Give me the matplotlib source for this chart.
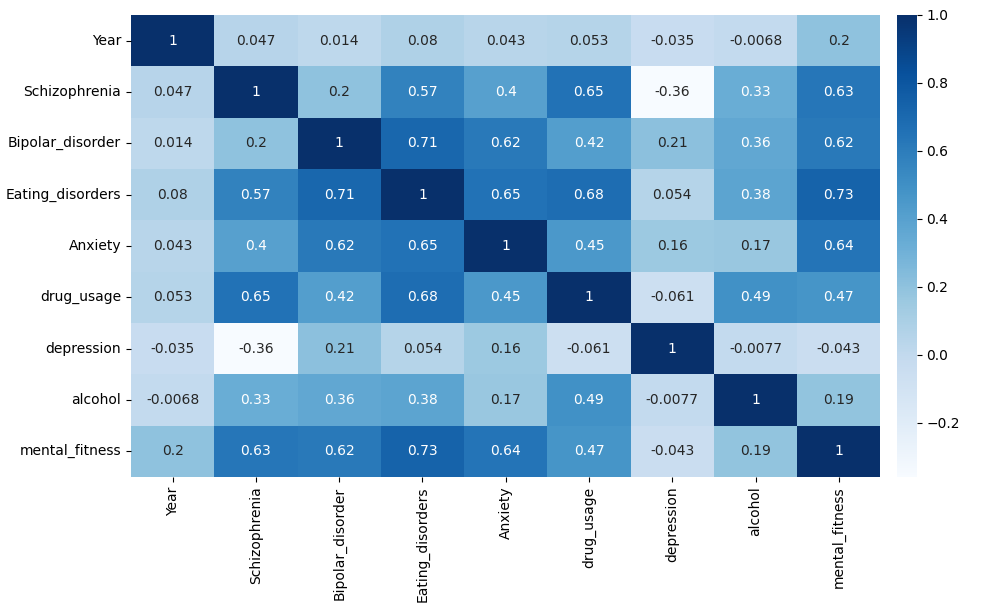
import numpy as np
import pandas as pd
import matplotlib
matplotlib.use("Agg")
import matplotlib.pyplot as plt
import seaborn as sns

labels = ["Year", "Schizophrenia", "Bipolar_disorder", "Eating_disorders",
          "Anxiety", "drug_usage", "depression", "alcohol", "mental_fitness"]

corr = [
    [1, 0.047, 0.014, 0.08, 0.043, 0.053, -0.035, -0.0068, 0.2],
    [0.047, 1, 0.2, 0.57, 0.4, 0.65, -0.36, 0.33, 0.63],
    [0.014, 0.2, 1, 0.71, 0.62, 0.42, 0.21, 0.36, 0.62],
    [0.08, 0.57, 0.71, 1, 0.65, 0.68, 0.054, 0.38, 0.73],
    [0.043, 0.4, 0.62, 0.65, 1, 0.45, 0.16, 0.17, 0.64],
    [0.053, 0.65, 0.42, 0.68, 0.45, 1, -0.061, 0.49, 0.47],
    [-0.035, -0.36, 0.21, 0.054, 0.16, -0.061, 1, -0.0077, -0.043],
    [-0.0068, 0.33, 0.36, 0.38, 0.17, 0.49, -0.0077, 1, 0.19],
    [0.2, 0.63, 0.62, 0.73, 0.64, 0.47, -0.043, 0.19, 1],
]

df = pd.DataFrame(corr, index=labels, columns=labels)

fig = plt.figure(figsize=(10.02, 6.12), dpi=100)
ax = fig.add_axes([0.1307, 0.2206, 0.748, 0.755])
cax = fig.add_axes([0.895, 0.2206, 0.02, 0.755])

sns.heatmap(df, annot=True, cmap="Blues", ax=ax, cbar_ax=cax)

fig.savefig("out.png", dpi=100)
